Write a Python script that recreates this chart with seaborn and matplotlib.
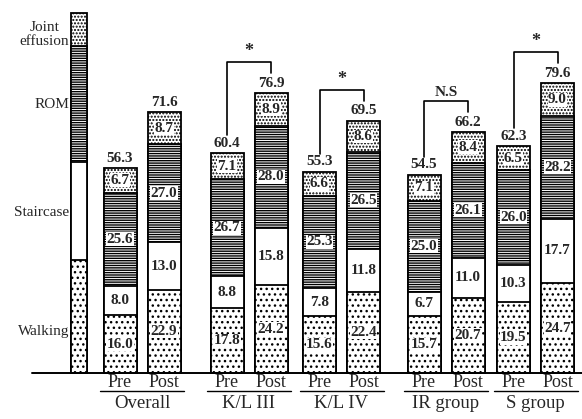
import numpy as np
import pandas as pd
import seaborn as sns
import matplotlib.pyplot as plt

# JOA-type knee score, Pre / Post for each group
groups = ['Overall', 'K/L III', 'K/L IV', 'IR group', 'S group']
phases = ['Pre', 'Post']
walking = [16.0, 22.9, 17.8, 24.2, 15.6, 22.4, 15.7, 20.7, 19.5, 24.7]
staircase = [8.0, 13.0, 8.8, 15.8, 7.8, 11.8, 6.7, 11.0, 10.3, 17.7]
rom = [25.6, 27.0, 26.7, 28.0, 25.3, 26.5, 25.0, 26.1, 26.0, 28.2]
effusion = [6.7, 8.7, 7.1, 8.9, 6.6, 8.6, 7.1, 8.4, 6.5, 9.0]
totals = [56.3, 71.6, 60.4, 76.9, 55.3, 69.5, 54.5, 66.2, 62.3, 79.6]

# key column on the left (full score of each item, as drawn)
components = ['Walking', 'Staircase', 'ROM', 'Joint\neffusion']
full_scores = [31, 27, 32, 9]

# Pre vs Post tests for K/L III, K/L IV, IR group, S group
significance = ['*', '*', 'N.S', '*']

sns.set_style('white')
plt.rcParams['font.family'] = ['Liberation Serif', 'DejaVu Serif']
plt.rcParams['hatch.linewidth'] = 1.0

# layout (pixel-like x units)
group_centers = [142, 249, 341.5, 446, 535.5]
half_gap = 22
key_x = 79
x_pos = [c + s * half_gap for c in group_centers for s in (-1, 1)]
hatches = ['...', '', '-------', '.....']

fig = plt.figure(figsize=(5.82, 4.19), dpi=100)
ax = fig.add_axes([0, 0, 1, 1])

layers = np.array([walking, staircase, rom, effusion])
cum = np.cumsum(layers, axis=0)
key_cum = np.cumsum(full_scores)

for i in reversed(range(4)):
    df = pd.DataFrame({'x': x_pos, 'score': cum[i]})
    sns.barplot(data=df, x='x', y='score', native_scale=True, width=0.75,
                color='white', saturation=1, edgecolor='black', linewidth=1.3,
                hatch=hatches[i], errorbar=None, ax=ax)
    dk = pd.DataFrame({'x': [key_x], 'score': [key_cum[i]]})
    sns.barplot(data=dk, x='x', y='score', native_scale=True, width=16,
                color='white', saturation=1, edgecolor='black', linewidth=1.3,
                hatch=hatches[i], errorbar=None, ax=ax)

# segment values
for i in range(4):
    base = cum[i] - layers[i]
    for x, b, v in zip(x_pos, base, layers[i]):
        ax.text(x, b + v / 2, f'{v:.1f}', ha='center', va='center',
                fontsize=11, fontweight='bold',
                bbox=dict(facecolor='white', edgecolor='none', pad=0.3))

# totals on top
for x, t, c in zip(x_pos, totals, cum[-1]):
    ax.text(x, c + 1.0, f'{t:.1f}', ha='center', va='bottom',
            fontsize=11, fontweight='bold')

# key labels
key_label_y = [11.3, 44.2, 73.9, 93.0]
for name, y in zip(components, key_label_y):
    ax.text(key_x - 10, y, name, ha='right', va='center', fontsize=11,
            multialignment='center', linespacing=1.15)

# significance brackets
for g, mark in enumerate(significance, start=1):
    xl, xr = x_pos[2 * g], x_pos[2 * g + 1]
    tl, tr = cum[-1][2 * g], cum[-1][2 * g + 1]
    top = tr + 8.5
    ax.plot([xl, xl, xr, xr], [tl + 5.0, top, top, tr + 5.5],
            color='black', lw=1.2)
    ax.text((xl + xr) / 2, top + 0.6, mark, ha='center', va='bottom',
            fontsize=13 if mark == '*' else 11, fontweight='bold')

# axis line and category labels
ax.axhline(0, xmin=32 / 582, xmax=1, color='black', lw=1.4)
for x, p in zip(x_pos, phases * len(groups)):
    ax.text(x, -2.6, p, ha='center', va='center', fontsize=13)
for c, g in zip(group_centers, groups):
    ax.plot([c - 42, c + 42], [-4.95, -4.95], color='black', lw=1.0)
    ax.text(c, -8.3, g, ha='center', va='center', fontsize=13.5)

ax.set_xlim(0, 582)
ax.set_ylim(-12.6, 102.5)
ax.axis('off')

fig.savefig('out.png', dpi=100)
